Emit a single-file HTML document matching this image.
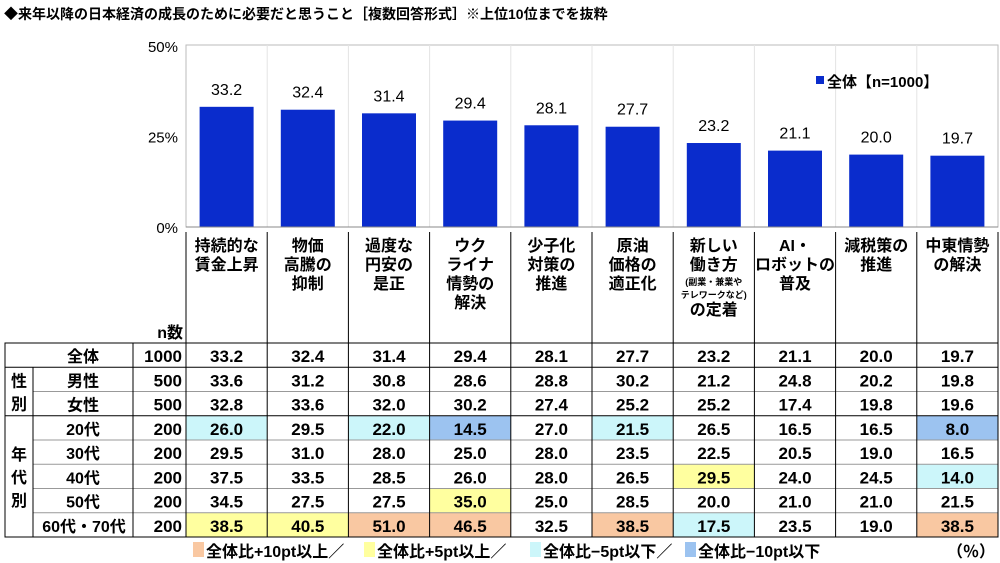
<!DOCTYPE html>
<html><head><meta charset="utf-8"><style>
html,body{margin:0;padding:0;background:#fff;}
svg{display:block;font-family:"Liberation Sans","Noto Sans CJK JP",sans-serif;}
</style></head><body>
<svg id="c" width="1000" height="563" viewBox="0 0 1000 563">
<text x="4" y="19" font-size="14" font-weight="bold">◆来年以降の日本経済の成長のために必要だと思うこと［複数回答形式］※上位10位までを抜粋</text>
</svg>
<script>
const categories=[["持続的な","賃金上昇"],["物価","高騰の","抑制"],["過度な","円安の","是正"],["ウク","ライナ","情勢の","解決"],["少子化","対策の","推進"],["原油","価格の","適正化"],["新しい","働き方","(副業・兼業や","テレワークなど)","の定着"],["AI・","ロボットの","普及"],["減税策の","推進"],["中東情勢","の解決"]];
const totalValues=[33.2,32.4,31.4,29.4,28.1,27.7,23.2,21.1,20.0,19.7];
const yTicks=[0,25,50];
const rowLabels=["全体","男性","女性","20代","30代","40代","50代","60代・70代"];
const rowN=[1000,500,500,200,200,200,200,200];
const rowValues=[
[33.2,32.4,31.4,29.4,28.1,27.7,23.2,21.1,20.0,19.7],
[33.6,31.2,30.8,28.6,28.8,30.2,21.2,24.8,20.2,19.8],
[32.8,33.6,32.0,30.2,27.4,25.2,25.2,17.4,19.8,19.6],
[26.0,29.5,22.0,14.5,27.0,21.5,26.5,16.5,16.5,8.0],
[29.5,31.0,28.0,25.0,28.0,23.5,22.5,20.5,19.0,16.5],
[37.5,33.5,28.5,26.0,28.0,26.5,29.5,24.0,24.5,14.0],
[34.5,27.5,27.5,35.0,25.0,28.5,20.0,21.0,21.0,21.5],
[38.5,40.5,51.0,46.5,32.5,38.5,17.5,23.5,19.0,38.5]];
const svg=document.getElementById('c');
const NS='http://www.w3.org/2000/svg';
function mk(t,a,txt){const e=document.createElementNS(NS,t);for(const k in a)e.setAttribute(k,a[k]);if(txt!==undefined)e.textContent=txt;svg.appendChild(e);return e;}
const X0=186,CW=81.2,Y0=227,Y50=46;
const colX=i=>X0+i*CW;
const yS=v=>Y0-(v/50)*(Y0-Y50);
let e=mk('rect',{x:X0,y:45,width:812,height:182,fill:'none',stroke:'#bbb','stroke-width':1});


for(let i=1;i<10;i++){e=mk('line',{x1:colX(i),x2:colX(i),y1:45,y2:227,stroke:'#e4e4e4'});

}
yTicks.forEach(t=>{e=mk('text',{x:178,y:yS(t)+6,'font-size':15,'text-anchor':'end'},t+'%');

});
totalValues.forEach((v,i)=>{const cx=colX(i)+CW/2;
e=mk('rect',{x:cx-27,y:yS(v),width:54,height:Y0-yS(v),fill:'#0a2ccc'});


e=mk('text',{x:cx,y:yS(v)-12,'font-size':16,'text-anchor':'middle'},v.toFixed(1));

});
e=mk('line',{x1:X0,x2:998,y1:Y0,y2:Y0,stroke:'#888'});


e=mk('rect',{x:816,y:76,width:8,height:8,fill:'#0a2ccc'});


e=mk('text',{x:827,y:87,'font-size':15,'font-weight':'bold'},'全体【n=1000】');


categories.forEach((lines,i)=>{const cx=colX(i)+CW/2;let y=251;
lines.forEach(l=>{const small=l.startsWith('(')||l.endsWith(')');
e=mk('text',{x:cx,y:small?y-4:y,'font-size':small?9:16,'font-weight':'bold','text-anchor':'middle'},l);


y+=small?13:19;});});
e=mk('text',{x:183,y:338,'font-size':16,'font-weight':'bold','text-anchor':'end'},'n数');


const RT=343,RH=24.25,RB=RT+8*RH;
const fills={'hi10':'#f9c8a2','hi5':'#ffff9f','lo5':'#ccf6fa','lo10':'#9cc3f0'};
rowValues.forEach((row,r)=>{const y=RT+r*RH;
row.forEach((v,i)=>{const d=v-totalValues[i];let f=null;
if(r>0){if(d>=10)f=fills.hi10;else if(d>=5)f=fills.hi5;else if(d<=-10)f=fills.lo10;else if(d<=-5)f=fills.lo5;}
if(f){e=mk('rect',{x:colX(i),y:y,width:CW,height:RH,fill:f});

}
e=mk('text',{x:colX(i)+CW/2,y:y+19,'font-size':17,'font-weight':'bold','text-anchor':'middle'},v.toFixed(1));

});
e=mk('text',{x:r==7?84:83,y:y+19,'font-size':16,'font-weight':'bold','text-anchor':'middle'},rowLabels[r]);


e=mk('text',{x:182,y:y+19,'font-size':17,'font-weight':'bold','text-anchor':'end'},rowN[r]);


if(r>0){e=mk('line',{x1:(r==3)?5:(r==1?5:33),x2:998,y1:y,y2:y,stroke:(r==1||r==3)?'#000':'#999'});

}});
[["性","別"],["年","代","別"]].forEach((g,k)=>{const top=k?RT+3*RH:RT+RH,h=k?5*RH:2*RH;const y0=top+h/2-(g.length*23)/2+18;
g.forEach((c,j)=>{e=mk('text',{x:19,y:y0+j*23,'font-size':16,'font-weight':'bold','text-anchor':'middle'},c);

});});
e=mk('rect',{x:5,y:RT,width:993,height:8*RH,fill:'none',stroke:'#000'});


[[33,RT+RH,RB],[133,RT,RB],[186,232,RB]].forEach(a=>{e=mk('line',{x1:a[0],x2:a[0],y1:a[1],y2:a[2],stroke:'#000'});

});
for(let i=1;i<=10;i++){e=mk('line',{x1:colX(i),x2:colX(i),y1:232,y2:RB,stroke:'#000'});

}
const leg=[['#f9c8a2','全体比+10pt以上／',193],['#ffff9f','全体比+5pt以上／',364],['#ccf6fa','全体比−5pt以下／',530],['#9cc3f0','全体比−10pt以下',685]];
leg.forEach(l=>{e=mk('rect',{x:l[2],y:542,width:11,height:15,fill:l[0]});


e=mk('text',{x:l[2]+13,y:557,'font-size':16,'font-weight':'bold'},l[1]);

});
e=mk('text',{x:995,y:557,'font-size':16,'font-weight':'bold','text-anchor':'end'},'（％）');


</script>
</body></html>
